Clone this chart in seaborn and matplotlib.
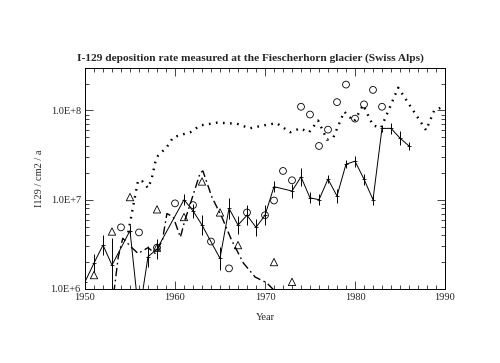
import numpy as np
import pandas as pd
import seaborn as sns
import matplotlib
matplotlib.use("Agg")
import matplotlib.pyplot as plt
from matplotlib.ticker import MultipleLocator, FixedLocator, NullFormatter

# solid line with error bars
solid_years = [1950, 1951, 1952, 1953, 1955, 1956, 1957, 1958, 1961, 1962, 1963, 1965,
               1966, 1967, 1968, 1969, 1970, 1971, 1973, 1974, 1975, 1976, 1977, 1978,
               1979, 1980, 1981, 1982, 1983, 1984, 1985, 1986]
solid_vals = [1.2e6, 1.95e6, 3.1e6, 1.85e6, 4.5e6, 5e5, 2.3e6, 2.8e6, 1.0e7, 7.5e6, 5.2e6, 2.2e6,
              8.0e6, 5.2e6, 6.7e6, 4.9e6, 6.7e6, 1.4e7, 1.25e7, 1.8e7, 1.05e7, 1.0e7, 1.7e7, 1.1e7,
              2.5e7, 2.7e7, 1.7e7, 1.0e7, 6.3e7, 6.3e7, 4.9e7, 4.0e7]
solid_err = [0.0, 0.25, 0.3, 1.0, 0.15, 0.0, 0.3, 0.3, 0.15, 0.2, 0.3, 0.35,
             0.3, 0.25, 0.3, 0.25, 0.3, 0.15, 0.2, 0.25, 0.15, 0.15, 0.1, 0.2,
             0.1, 0.15, 0.15, 0.15, 0.1, 0.15, 0.2, 0.1]

# dotted line
dot_years = [1954.8, 1955.9, 1956.4, 1957.0, 1957.4, 1957.8, 1958.1, 1959.1, 1959.8, 1960.6,
             1961.7, 1962.8, 1964.7, 1966.9, 1968.3, 1969.8, 1971.3, 1972.8, 1973.9, 1974.9,
             1975.9, 1976.9, 1977.6, 1978.8, 1979.9, 1980.9, 1982.0, 1982.9, 1984.8, 1987.9,
             1988.8, 1989.8]
dot_vals = [4.3e6, 1.65e7, 1.6e7, 1.35e7, 1.7e7, 2.6e7, 3.1e7, 3.9e7, 5.0e7, 5.3e7,
            5.7e7, 6.8e7, 7.3e7, 7.1e7, 6.3e7, 6.8e7, 7.2e7, 5.7e7, 6.3e7, 5.7e7,
            7.7e7, 4.7e7, 5.0e7, 9.7e7, 7.5e7, 1.15e8, 6.8e7, 6.4e7, 1.8e8, 6.0e7,
            1.0e8, 1.1e8]

# dash-dot line
dd_years = [1953.2, 1953.7, 1954.2, 1955.2, 1955.9, 1957.0, 1957.8, 1958.6, 1959.1, 1959.8,
            1960.6, 1961.1, 1961.7, 1962.8, 1963.1, 1964.1, 1965.2, 1966.3, 1967.6, 1968.9,
            1970.2, 1971.3]
dd_vals = [9e5, 2.3e6, 3.7e6, 2.9e6, 2.5e6, 2.9e6, 2.5e6, 3.5e6, 7.0e6, 6.4e6,
           3.8e6, 5.9e6, 9.0e6, 2.0e7, 2.1e7, 1.07e7, 6.4e6, 3.5e6, 1.95e6, 1.36e6,
           1.17e6, 9e5]

# open circles
circ_years = [1954, 1956, 1958, 1960, 1962, 1964, 1966, 1968, 1970, 1971, 1972, 1973,
              1974, 1975, 1976, 1977, 1978, 1979, 1980, 1981, 1982, 1983]
circ_vals = [4.9e6, 4.3e6, 2.9e6, 9.1e6, 8.7e6, 3.4e6, 1.7e6, 7.2e6, 6.7e6, 9.8e6, 2.1e7, 1.65e7,
             1.1e8, 9.0e7, 4.0e7, 6.1e7, 1.24e8, 1.95e8, 8.1e7, 1.17e8, 1.7e8, 1.1e8]

# open triangles
tri_years = [1951, 1953, 1955, 1958, 1958, 1961, 1963, 1965, 1967, 1971, 1973]
tri_vals = [1.43e6, 4.4e6, 1.07e7, 7.8e6, 2.9e6, 6.4e6, 1.6e7, 7.2e6, 3.1e6, 2.0e6, 1.2e6]

sns.set_style("ticks")
plt.rcParams["font.family"] = ["Liberation Serif", "DejaVu Serif"]

fig = plt.figure(figsize=(5.0, 3.63), dpi=100)
ax = fig.add_axes([0.17, 0.204, 0.72, 0.609])

solid = pd.DataFrame({"year": solid_years, "val": solid_vals, "err": solid_err})
sns.lineplot(data=solid, x="year", y="val", color="black", lw=0.7,
             estimator=None, sort=False, ax=ax)
lo = solid["val"] - solid["val"] / (1 + solid["err"])
hi = solid["val"] * solid["err"]
ax.errorbar(solid["year"], solid["val"], yerr=[lo, hi], fmt="none",
            ecolor="black", elinewidth=0.7, capsize=0)
ax.plot(solid["year"], solid["val"], ls="none", marker="_", ms=3, mew=0.6, color="black")

sns.lineplot(x=dot_years, y=dot_vals, color="black", lw=1.7,
             linestyle=(0, (0.7, 2.3)), estimator=None, sort=False, ax=ax)
sns.lineplot(x=dd_years, y=dd_vals, color="black", lw=1.0,
             linestyle=(0, (6, 2.5, 1.2, 2.5)), estimator=None, sort=False, ax=ax)

sns.scatterplot(x=circ_years, y=circ_vals, marker="o", s=24, facecolor="none",
                edgecolor="black", linewidth=0.6, ax=ax)
sns.scatterplot(x=tri_years, y=tri_vals, marker="^", s=28, facecolor="none",
                edgecolor="black", linewidth=0.6, ax=ax)

ax.set_yscale("log")
ax.set_xlim(1950, 1990)
ax.set_ylim(1e6, 3e8)

ax.xaxis.set_major_locator(MultipleLocator(10))
ax.xaxis.set_minor_locator(MultipleLocator(1))
ax.yaxis.set_major_locator(FixedLocator([1e6, 1e7, 1e8]))
ax.set_yticklabels(["1.0E+6", "1.0E+7", "1.0E+8"])
ax.yaxis.set_minor_formatter(NullFormatter())
ax.tick_params(which="both", direction="in", top=True, right=True,
               labelsize=7.5, width=0.6, pad=3)
ax.tick_params(which="major", length=6)
ax.tick_params(which="minor", length=3)
for s in ax.spines.values():
    s.set_linewidth(0.7)
    s.set_color("black")

ax.set_xlabel("Year", fontsize=7.5, labelpad=8)
ax.set_ylabel("I129 / cm2 / a", fontsize=7.5, labelpad=5)
fig.text(0.5, 0.84, "I-129 deposition rate measured at the Fiescherhorn glacier (Swiss Alps)",
         ha="center", va="center", fontsize=8.2, fontweight="bold")

fig.savefig("out.png", dpi=100, facecolor="white")
